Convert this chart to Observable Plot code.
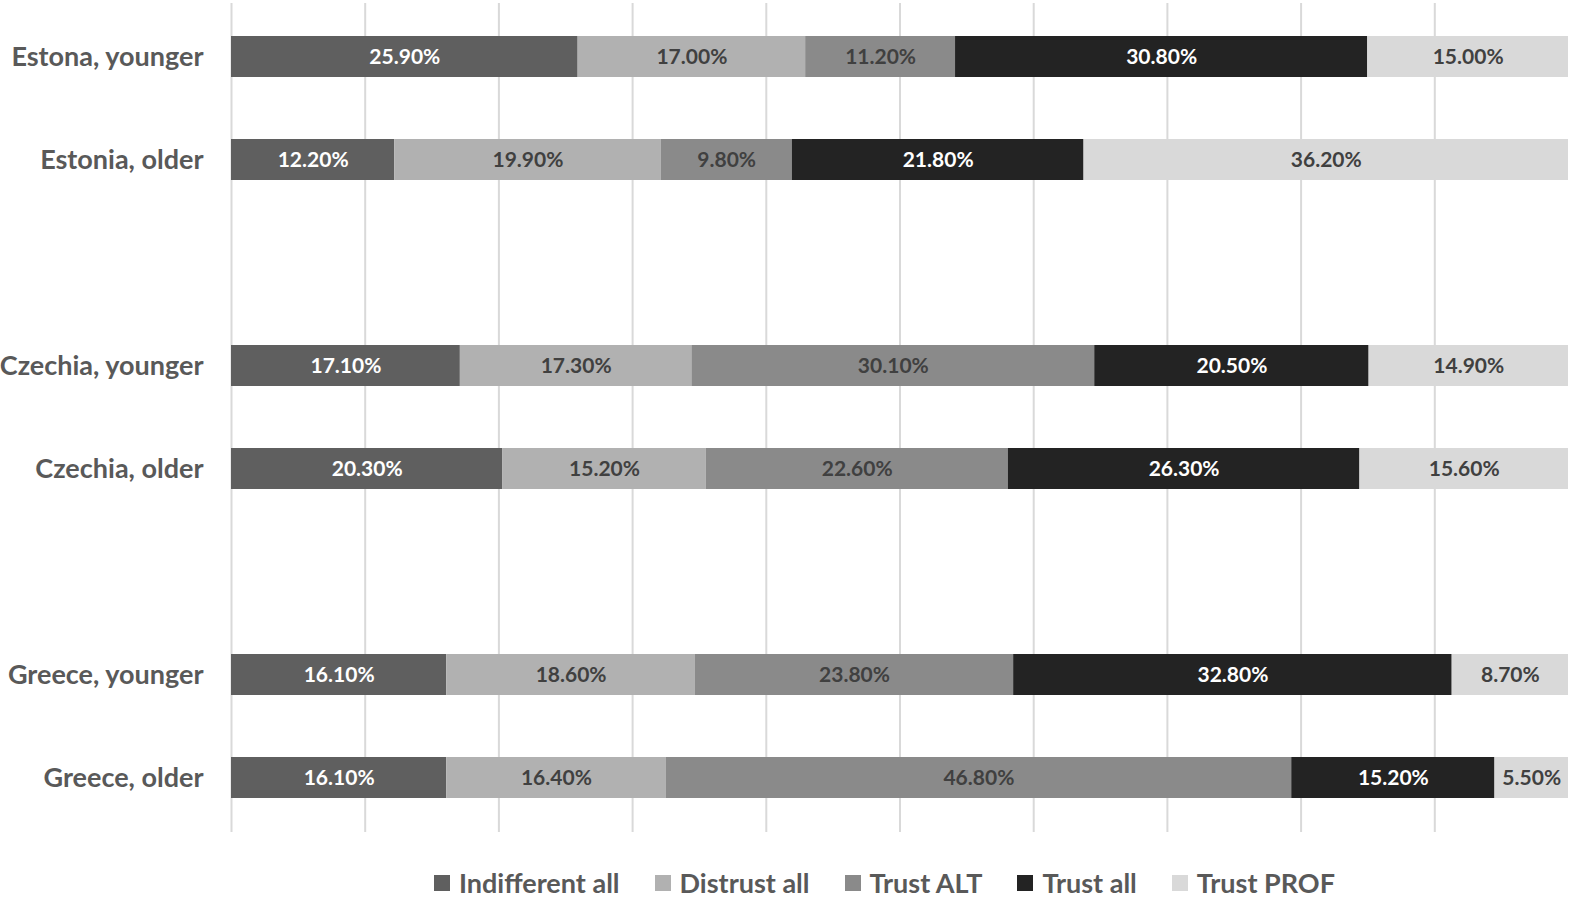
<!DOCTYPE html>
<html>
<head>
<meta charset="utf-8">
<script src="https://cdn.jsdelivr.net/npm/d3@7"></script>
<script src="https://cdn.jsdelivr.net/npm/@observablehq/plot@0.6"></script>
<style>
  html, body { margin: 0; padding: 0; background: #fff; }
  #wrap { position: relative; width: 1573px; height: 901px; }
  #chart svg { display: block; }
  #chart [aria-label^="y-axis"] text { font-size: 27px; fill: #595959; font-weight: bold; }
  #legend { position: absolute; left: 434px; top: 869px; display: flex; align-items: center;
            font-family: Lato, sans-serif; font-weight: bold; font-size: 27px; line-height: 1; color: #595959; }
  #legend .item { display: flex; align-items: center; margin-right: 35px; }
  #legend .sw { width: 16px; height: 16px; margin-right: 9px; }
</style>
</head>
<body>
<div id="wrap">
  <div id="chart"></div>
  <div id="legend"></div>
</div>
<script>
// Row categories (gap rows are blank spacer rows)
const rows = ["Estona, younger", "Estonia, older", "gap1", "Czechia, younger", "Czechia, older", "gap2", "Greece, younger", "Greece, older"];
const groups = ["Estona, younger", "Estonia, older", "Czechia, younger", "Czechia, older", "Greece, younger", "Greece, older"];
const seriesNames = ["Indifferent all", "Distrust all", "Trust ALT", "Trust all", "Trust PROF"];
const seriesColors = ["#5f5f5f", "#b1b1b1", "#8a8a8a", "#232323", "#d9d9d9"];

// Values (%), in the order of `groups`
const indifferentAll = [25.9, 12.2, 17.1, 20.3, 16.1, 16.1];
const distrustAll    = [17.0, 19.9, 17.3, 15.2, 18.6, 16.4];
const trustALT       = [11.2,  9.8, 30.1, 22.6, 23.8, 46.8];
const trustAll       = [30.8, 21.8, 20.5, 26.3, 32.8, 15.2];
const trustPROF      = [15.0, 36.2, 14.9, 15.6,  8.7,  5.5];

const gridTicks = [0, 0.1, 0.2, 0.3, 0.4, 0.5, 0.6, 0.7, 0.8, 0.9];
const whiteLabelSeries = ["Indifferent all", "Trust all"];

const seriesValues = [indifferentAll, distrustAll, trustALT, trustAll, trustPROF];
const data = [];
groups.forEach((g, i) => {
  seriesNames.forEach((s, j) => {
    data.push({row: g, series: s, value: seriesValues[j][i]});
  });
});

const fmt = d => d.value.toFixed(2) + "%";
const stackOpts = {x: "value", y: "row", z: "series", offset: "normalize", order: seriesNames};

const plot = Plot.plot({
  width: 1573,
  height: 848,
  marginLeft: 231,
  marginRight: 5,
  marginTop: 3,
  marginBottom: 16,
  style: {fontFamily: "Lato, sans-serif", background: "#fff", overflow: "visible"},
  x: {axis: null, domain: [0, 1]},
  y: {domain: rows, paddingInner: 0.6, paddingOuter: 0.3, label: null, tickSize: 0, tickPadding: 28,
      tickFormat: d => d.startsWith("gap") ? "" : d},
  color: {domain: seriesNames, range: seriesColors},
  marks: [
    Plot.ruleX(gridTicks, {stroke: "#d9d9d9", strokeWidth: 2}),
    Plot.barX(data, Plot.stackX({...stackOpts, fill: "series"})),
    Plot.text(data, Plot.stackX({...stackOpts,
      text: d => whiteLabelSeries.includes(d.series) ? fmt(d) : "",
      fill: "white", fontSize: 21, fontWeight: "bold"})),
    Plot.text(data, Plot.stackX({...stackOpts,
      text: d => whiteLabelSeries.includes(d.series) ? "" : fmt(d),
      fill: "#404040", fontSize: 21, fontWeight: "bold"}))
  ]
});
document.getElementById("chart").appendChild(plot);

const legend = document.getElementById("legend");
seriesNames.forEach((s, i) => {
  const item = document.createElement("div");
  item.className = "item";
  const sw = document.createElement("span");
  sw.className = "sw";
  sw.style.background = seriesColors[i];
  const label = document.createElement("span");
  label.textContent = s;
  item.appendChild(sw);
  item.appendChild(label);
  legend.appendChild(item);
});
</script>
</body>
</html>
